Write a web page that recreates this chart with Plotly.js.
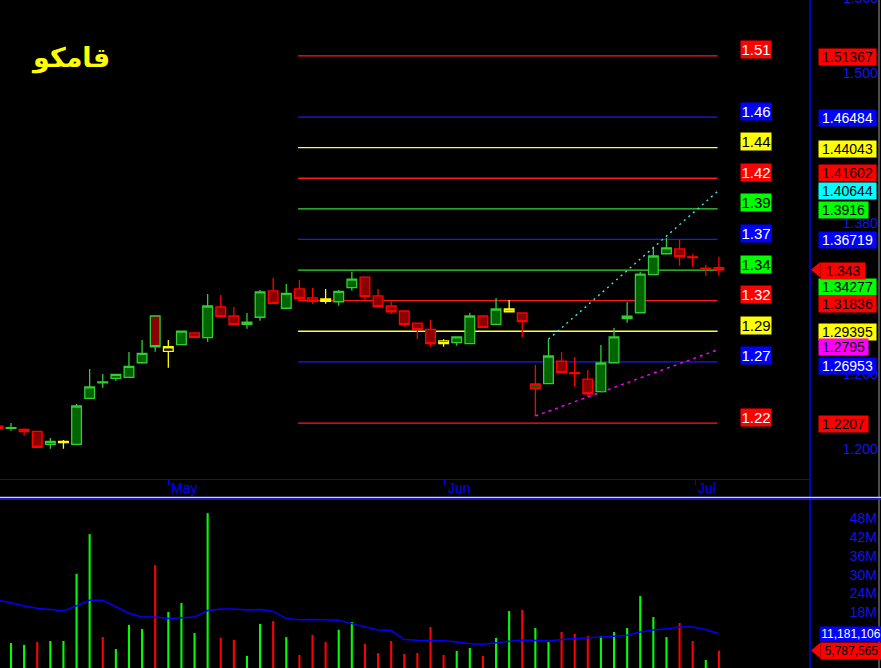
<!DOCTYPE html>
<html><head><meta charset="utf-8">
<script src="https://cdn.plot.ly/plotly-3.0.1.min.js"></script>
<style>html,body{margin:0;padding:0;background:#000;overflow:hidden}#chart{width:881px;height:668px}</style>
</head><body><div id="chart"></div>
<script>
// ---------------- DATA ----------------
const symbolName = 'قامکو';
const barIndex = [-1,0,1,2,3,4,5,6,7,8,9,10,11,12,13,14,15,16,17,18,19,20,21,22,23,24,25,26,27,28,29,30,31,32,33,34,35,36,37,38,39,40,41,42,43,44,45,46,47,48,49,50,51,52,53,54];
const openP = [1.2183,1.2164,1.2157,1.2141,1.2037, 1.2052,1.2037,1.2404,1.2527,1.2564, 1.2572,1.2688,1.3061,1.2779,1.2832, 1.2926,1.2888,1.3133,1.3061,1.2995, 1.3051,1.3261,1.3123,1.3277,1.3205, 1.3197,1.3175,1.3287,1.3372,1.3221, 1.3141,1.3101,1.3005,1.2955,1.2862, 1.2848,1.2840,1.3061,1.2995,1.3095, 1.3085,1.2481,1.2521,1.2700,1.2610, 1.2558,1.2457,1.2688,1.3040,1.3087, 1.3391,1.3558,1.3596,1.3533,1.3443, 1.3446];
const highP = [1.2183,1.2207,1.2165,1.2141,1.2088, 1.2072,1.2359,1.2638,1.2598,1.2596, 1.2774,1.2870,1.3061,1.2870,1.2941, 1.2936,1.3237,1.3229,1.3133,1.3085, 1.3269,1.3364,1.3316,1.3348,1.3285, 1.3277,1.3269,1.3415,1.3372,1.3277, 1.3189,1.3101,1.3005,1.3029,1.2875, 1.2894,1.3087,1.3061,1.3205,1.3189, 1.3085,1.2670,1.2875,1.2774,1.2734, 1.2630,1.2830,1.2965,1.3173,1.3412, 1.3614,1.3683,1.3668,1.3553,1.3470, 1.3534];
const lowP = [1.2165,1.2146,1.2106,1.2014,1.2002, 1.2002,1.2037,1.2404,1.2489,1.2545, 1.2572,1.2680,1.2776,1.2649,1.2832, 1.2891,1.2856,1.3048,1.2992,1.2960, 1.3024,1.3162,1.3123,1.3181,1.3159, 1.3159,1.3143,1.3263,1.3178,1.3127, 1.3077,1.2976,1.2878,1.2816,1.2816, 1.2824,1.2840,1.2971,1.2995,1.3095, 1.2894,1.2263,1.2521,1.2609,1.2497, 1.2417,1.2457,1.2688,1.3008,1.3087, 1.3391,1.3558,1.3462,1.3454,1.3383, 1.3383];
const closeP = [1.2165,1.2171,1.2138,1.2014,1.2061, 1.2061,1.2343,1.2495,1.2535,1.2596, 1.2660,1.2763,1.2816,1.2816,1.2941, 1.2891,1.3141,1.3056,1.2992,1.3013, 1.3253,1.3162,1.3242,1.3201,1.3178, 1.3178,1.3258,1.3356,1.3215,1.3135, 1.3095,1.2992,1.2952,1.2840,1.2840, 1.2894,1.3061,1.2971,1.3117,1.3117, 1.3017,1.2519,1.2742,1.2609,1.2602, 1.2441,1.2686,1.2894,1.3059,1.3396, 1.3540,1.3604,1.3534,1.3528,1.3436, 1.3430];
// volume in millions
const volumeM = [null, 8.2,7.6,8.5,8.85,8.85, 30.3,43.0,10.1,6.3,14.0, 12.7,33.1,18.1,21.0,11.4, 49.7,9.8,9.2,4.1,14.3, 15.2,10.1,4.4,10.8,8.5, 12.4,14.9,7.9,5.0,8.85, 4.7,5.0,13.3,4.4,5.7, 6.6,4.1,9.8,18.4,18.75, 13.0,8.5,11.7,11.1,10.4, 10.4,11.7,13.0,23.2,16.5, 10.1,14.6,8.85,2.8,5.787565];
const volumeUp = [0, 1,1,0,1,1, 1,1,0,1,1, 1,0,1,1,1, 1,0,0,1,1, 0,1,0,0,0, 1,1,0,0,0, 0,0,0,0,1, 1,0,1,1,0, 1,1,0,0,0, 1,1,1,1,1, 1,0,0,1,0];
const volumeMA = [21.9, 21.1,20.0,19.3,18.9,18.4, 20.1,21.9,21.9,19.7,17.7, 16.5,16.5,16.0,16.2,16.5, 18.6,19.1,19.1,18.75,18.9, 18.3,16.0,15.6,15.7,15.7, 15.5,14.4,13.3,12.4,12.2, 9.3,9.1,9.1,8.9,8.5, 8.0,7.8,8.2,8.8,9.2, 9.0,8.85,9.3,9.5,9.7, 10.1,10.4,10.7,11.7,12.4, 12.8,13.3,13.3,12.5,11.181106];
const levelValues = [1.51367,1.46484,1.44043,1.41602,1.3916,1.36719,1.34277,1.31836,1.29395,1.26953,1.2207];
const levelKinds = ['red','blue','yellow','red','green','blue','green','red','yellow','blue','red'];
const levelSpan = [21.9, 53.9];
const resistX = [41, 54], resistY = [1.2875, 1.40644];
const supportX = [40, 54], supportY = [1.2263, 1.2795];
const monthTickPos = [12, 33.1, 52.2];
const monthNames = ['May','Jun','Jul'];
const priceTicks = [1.2,1.26,1.38,1.5];
const priceTopTick = 1.56;
const volTicks = [18,24,30,36,42,48];

// ---------------- STYLE ----------------
const lineCol = {red:'#ff1a1a', blue:'#1a1aff', yellow:'#ffff33', green:'#33dd33'};
const boxCol = {red:'#ff0000', blue:'#0000ff', yellow:'#ffff00', green:'#00ff00', cyan:'#00ffff', magenta:'#ff00ff'};
const axisBlue = '#1414e6';
const plotW = 810, H = 668;
const rightNudge = {'1.41602':-5, '1.34277':17, '1.31836':3, '1.2795':-2, '1.26953':4};
const fontMain = 'Liberation Sans, Arial, sans-serif';
function textW(s, size){ let w=0; for(const ch of s){ w += (ch==='.'||ch===',')?0.278*size:(ch==='M'?0.833*size:0.556*size);} return w; }

// ---------------- CANDLES ----------------
const edgeOf = closeP.map((c,i)=> i===0 ? (c>=openP[i]?'g':'r') : (c>closeP[i-1]?'g':(c<closeP[i-1]?'r':'y')));
const groups = {g:'#32cd32', r:'#ff0000', y:'#ffff00'};
const traces = [];
for (const g of ['g','r','y']) {
  const idx = barIndex.map((_,k)=>k).filter(k=>edgeOf[k]===g);
  const upFill = g==='y' ? '#000000' : '#006400';
  const dnFill = g==='y' ? '#000000' : '#8b0000';
  traces.push({
    type:'candlestick', xaxis:'x', yaxis:'y',
    x: idx.map(k=>barIndex[k]), open: idx.map(k=>openP[k]), high: idx.map(k=>highP[k]),
    low: idx.map(k=>lowP[k]), close: idx.map(k=>closeP[k]),
    increasing:{line:{color:groups[g], width:1.3}, fillcolor:upFill},
    decreasing:{line:{color:groups[g], width:1.3}, fillcolor:dnFill},
    whiskerwidth:0, hoverinfo:'skip', showlegend:false
  });
}
traces.push({type:'scatter', mode:'lines', x:resistX, y:resistY, xaxis:'x', yaxis:'y',
  line:{color:'#40e8e8', width:1.4, dash:'2px,4px'}, hoverinfo:'skip'});
traces.push({type:'scatter', mode:'lines', x:supportX, y:supportY, xaxis:'x', yaxis:'y',
  line:{color:'#ff00ff', width:1.4, dash:'3px,4px'}, hoverinfo:'skip'});
// volume
traces.push({type:'bar', x:barIndex, y:volumeM, xaxis:'x2', yaxis:'y2', width:0.16,
  marker:{color: volumeUp.map(u=>u?'#00ff00':'#ff0000'), line:{width:0}}, hoverinfo:'skip'});
traces.push({type:'scatter', mode:'lines', x:barIndex, y:volumeMA, xaxis:'x2', yaxis:'y2',
  line:{color:'#0000ff', width:1.5}, hoverinfo:'skip'});

// ---------------- SHAPES ----------------
const shapes = [];
levelValues.forEach((v,k)=>{
  shapes.push({type:'line', xref:'x', yref:'y', x0:levelSpan[0], x1:levelSpan[1], y0:v, y1:v,
    line:{color:lineCol[levelKinds[k]], width:1.3}, layer:'below'});
});
shapes.push({type:'line', xref:'paper', yref:'paper', x0:1, x1:1, y0:0, y1:1, line:{color:'#0000ff', width:1.5}});
shapes.push({type:'line', xref:'paper', yref:'paper', x0:879/plotW, x1:879/plotW, y0:0, y1:1, line:{color:'#9a9a9a', width:1}});
shapes.push({type:'line', xref:'paper', yref:'paper', x0:0, x1:881/plotW, y0:1-497.3/H, y1:1-497.3/H, line:{color:'#d0d0ff', width:1.3}});
shapes.push({type:'line', xref:'paper', yref:'paper', x0:0, x1:881/plotW, y0:1-499/H, y1:1-499/H, line:{color:'#2222ff', width:1.5}});
const lastClose = closeP[closeP.length-1];
const lastVol = volumeM[volumeM.length-1];
const lastMA = volumeMA[volumeMA.length-1];
function arrow(yref, yv, color){
  return {type:'path', xref:'paper', yref:yref, xsizemode:'pixel', ysizemode:'pixel',
    xanchor:820/plotW, yanchor:yv, path:'M 0.5,8 L -9,0 L 0.5,-8 Z', fillcolor:color, line:{width:0}};
}
shapes.push(arrow('y', lastClose, '#ff0000'));
shapes.push(arrow('y2', lastVol, '#ff0000'));

// ---------------- ANNOTATIONS ----------------
const ann = [];
ann.push({xref:'paper', yref:'paper', x:70/plotW, y:1-58/H, xanchor:'center', yanchor:'middle',
  text:'<b>'+symbolName+'</b>', showarrow:false, font:{family:'DejaVu Sans, sans-serif', size:27, color:'#ffff00'}});
monthNames.forEach((m,k)=>{
  ann.push({xref:'x', yref:'paper', x:monthTickPos[k], xshift:1, y:1-488/H, xanchor:'left', yanchor:'middle',
    text:m, showarrow:false, font:{family:fontMain, size:14, color:'#0000ff'}});
});
levelValues.forEach((v,k)=>{
  const kind = levelKinds[k];
  ann.push({xref:'paper', yref:'y', x:740/plotW, y:v, yshift:6, xanchor:'left', yanchor:'middle',
    text:v.toFixed(2), showarrow:false, bgcolor:boxCol[kind], borderpad:0, width:30, height:17,
    font:{family:fontMain, size:15, color:(kind==='red'||kind==='blue')?'#ffffff':'#000000'}});
});
const rightList = levelValues.map((v,k)=>({v, kind:levelKinds[k]}))
  .concat([{v:resistY[1], kind:'cyan'}, {v:supportY[1], kind:'magenta'}]);
rightList.forEach(o=>{
  const s = String(o.v);
  const nud = (rightNudge[s]!==undefined ? rightNudge[s] : 1);
  ann.push({xref:'paper', yref:'y', x:818/plotW, y:o.v, yshift:-nud, xanchor:'left', yanchor:'middle',
    text:s, showarrow:false, bgcolor:boxCol[o.kind], borderpad:0, width:Math.round(textW(s,14)+6), height:16,
    font:{family:fontMain, size:14, color:o.kind==='blue'?'#ffffff':'#000000'}});
});
ann.push({xref:'paper', yref:'y', x:820/plotW, y:lastClose, yshift:-1, xanchor:'left', yanchor:'middle',
  text:String(lastClose), showarrow:false, bgcolor:'#ff0000', borderpad:0, width:Math.round(textW(String(lastClose),14)+9), height:16,
  font:{family:fontMain, size:14, color:'#000000'}});
// top axis value sits partly above the page edge, as in the original
ann.push({xref:'paper', yref:'paper', x:841/plotW, y:1+2/H, xanchor:'left', yanchor:'middle',
  text:priceTopTick.toFixed(3), showarrow:false, font:{family:fontMain, size:14, color:axisBlue}});
const maTxt = Math.round(lastMA*1e6).toLocaleString('en-US');
const volTxt = Math.round(lastVol*1e6).toLocaleString('en-US');
ann.push({xref:'paper', yref:'y2', x:819/plotW, y:lastMA, xanchor:'left', yanchor:'middle',
  text:maTxt, showarrow:false, bgcolor:'#0000ff', borderpad:0, width:62, height:14,
  font:{family:fontMain, size:12, color:'#ffffff'}});
ann.push({xref:'paper', yref:'y2', x:820/plotW, y:lastVol, xanchor:'left', yanchor:'middle',
  text:volTxt, showarrow:false, bgcolor:'#ff0000', borderpad:0, width:61, height:16,
  font:{family:fontMain, size:12, color:'#000000'}});

// ---------------- LAYOUT ----------------
const layout = {
  width:881, height:668, margin:{l:0, r:71, t:0, b:0, pad:0},
  paper_bgcolor:'#000000', plot_bgcolor:'#000000', showlegend:false,
  boxmode:'overlay', boxgap:0.26, boxgroupgap:0,
  xaxis:{domain:[0,1], range:[-0.839,60.95], autorange:false, anchor:'y', tickmode:'array',
    tickvals:monthTickPos, ticktext:monthNames, showticklabels:false, ticks:'outside', ticklen:5, tickwidth:1, tickcolor:'#0000ff',
    showline:true, linecolor:'#0000ff', linewidth:1, showgrid:false, zeroline:false,
    rangeslider:{visible:false}, fixedrange:true},
  yaxis:{domain:[1-479/H,1], range:[1.17606,1.55825], autorange:false, side:'right', anchor:'x',
    tickmode:'array', tickvals:priceTicks, ticktext:priceTicks.map(t=>t.toFixed(3)),
    ticks:'outside', ticklen:29, tickcolor:'rgba(0,0,0,0)',
    tickfont:{family:fontMain, size:14, color:axisBlue}, showgrid:false, zeroline:false, showline:false, fixedrange:true},
  xaxis2:{domain:[0,1], matches:'x', anchor:'y2', showticklabels:false, ticks:'', showline:false,
    showgrid:false, zeroline:false, fixedrange:true},
  yaxis2:{domain:[0,1-500/H], range:[0.22,53.9], autorange:false, side:'right', anchor:'x2',
    tickmode:'array', tickvals:volTicks, ticktext:volTicks.map(t=>t+'M'),
    ticks:'outside', ticklen:36, tickcolor:'rgba(0,0,0,0)',
    tickfont:{family:fontMain, size:14, color:axisBlue}, showgrid:false, zeroline:false, showline:false, fixedrange:true},
  shapes:shapes, annotations:ann
};
Plotly.newPlot('chart', traces, layout, {staticPlot:true, displayModeBar:false});
</script></body></html>
